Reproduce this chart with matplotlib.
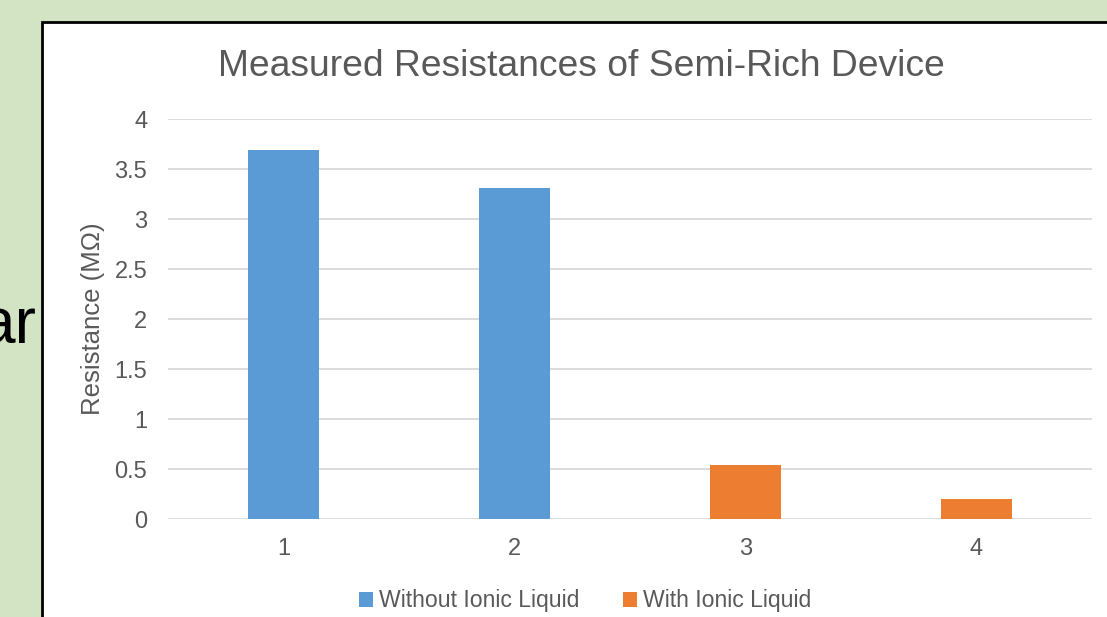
import matplotlib
matplotlib.use('Agg')
import matplotlib.pyplot as plt
from matplotlib.patches import Patch, Rectangle

# data
categories = ['1', '2', '3', '4']
resistance = [3.69, 3.31, 0.54, 0.20]
series = ['Without Ionic Liquid', 'Without Ionic Liquid', 'With Ionic Liquid', 'With Ionic Liquid']
series_names = ['Without Ionic Liquid', 'With Ionic Liquid']
y_ticks = [0, 0.5, 1, 1.5, 2, 2.5, 3, 3.5, 4]

colors = {'Without Ionic Liquid': '#5b9bd5', 'With Ionic Liquid': '#ed7d31'}
text_color = '#595959'

plt.rcParams['font.family'] = ['Liberation Sans', 'DejaVu Sans']

W, H = 1107, 617
fig = plt.figure(figsize=(W / 100, H / 100), dpi=100)
fig.patch.set_facecolor('#d2e4c4')

# white chart box with black border
box = Rectangle((42 / W, -0.1), 1.2, (H - 22) / H + 0.1, transform=fig.transFigure,
                facecolor='white', edgecolor='black', linewidth=2, zorder=-10)
fig.patches.append(box)

# leftover slide text
fig.text(36 / W, 1 - 326 / H, 'ar', fontsize=46, color='black', ha='right', va='center')

ax = fig.add_axes([168 / W, 1 - 519 / H, (1092 - 168) / W, 400 / H])
ax.set_facecolor('none')
ax.set_zorder(2)

x = list(range(len(categories)))
ax.bar(x, resistance, width=0.31, color=[colors[s] for s in series], zorder=3)

ax.set_xlim(-0.5, len(categories) - 0.5)
ax.set_ylim(0, 4)
ax.set_yticks(y_ticks)
ax.set_yticklabels([f'{t:g}' for t in y_ticks])
ax.set_xticks(x)
ax.set_xticklabels(categories)
ax.grid(axis='y', color='#d9d9d9', linewidth=1.3, zorder=0)
for s in ax.spines.values():
    s.set_visible(False)
ax.tick_params(axis='both', length=0, labelsize=17, colors=text_color)
ax.tick_params(axis='y', pad=15)
ax.tick_params(axis='x', pad=14)

ax.set_ylabel('Resistance (MΩ)', fontsize=18.5, color=text_color)
ax.yaxis.set_label_coords((105 - 168) / (1092 - 168), 0.5)
fig.text(581 / W, 1 - 66 / H, 'Measured Resistances of Semi-Rich Device',
         fontsize=26.8, color=text_color, ha='center', va='center')

handles = [Patch(facecolor=colors[n], label=n) for n in series_names]
fig.legend(handles=handles, loc='center', bbox_to_anchor=(585 / W, 1 - 601 / H), ncol=2,
           frameon=False, fontsize=16.6, labelcolor=text_color, handlelength=0.6,
           handleheight=0.6, handletextpad=0.25, columnspacing=1.9)

fig.savefig('out.png', dpi=100, facecolor=fig.get_facecolor())
